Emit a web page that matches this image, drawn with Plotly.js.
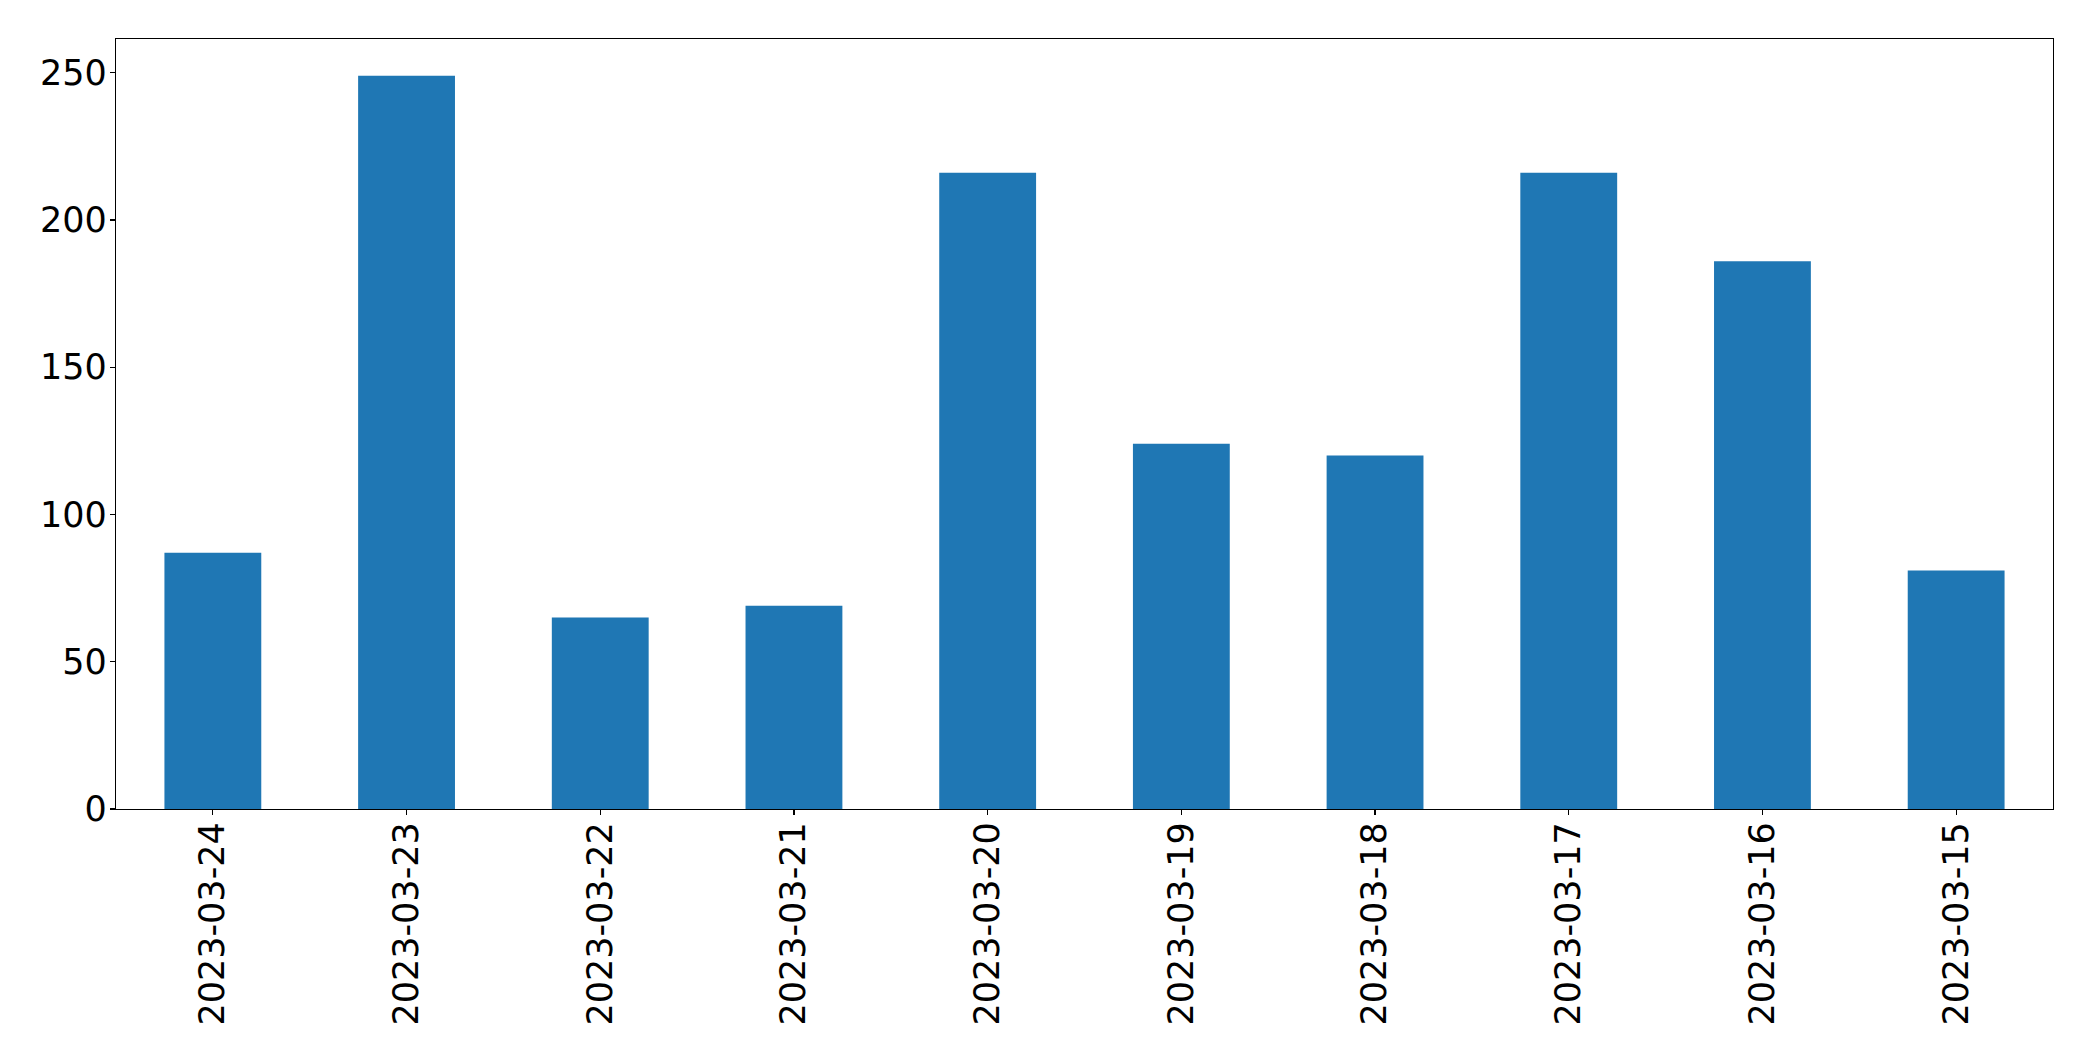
<!DOCTYPE html>
<html>
<head>
<meta charset="utf-8">
<script src="https://cdn.plot.ly/plotly-3.0.1.min.js"></script>
<style>
html, body { margin: 0; padding: 0; background: #ffffff; }
#chart { width: 2093px; height: 1061px; }
</style>
</head>
<body>
<div id="chart"></div>
<script>
const dates = ["2023-03-24", "2023-03-23", "2023-03-22", "2023-03-21", "2023-03-20",
               "2023-03-19", "2023-03-18", "2023-03-17", "2023-03-16", "2023-03-15"];
const counts = [87, 249, 65, 69, 216, 124, 120, 216, 186, 81];
const yTicks = [0, 50, 100, 150, 200, 250];

const font = { family: "DejaVu Sans", size: 35, color: "#000000" };

const trace = {
  type: "bar",
  x: dates,
  y: counts,
  width: 0.5,
  marker: { color: "#1f77b4", line: { width: 0 } },
  hoverinfo: "x+y"
};

const layout = {
  width: 2093,
  height: 1061,
  margin: { l: 116, r: 40, t: 39, b: 252, pad: 0 },
  paper_bgcolor: "#ffffff",
  plot_bgcolor: "#ffffff",
  showlegend: false,
  font: font,
  bargap: 0.5,
  xaxis: {
    type: "category",
    range: [-0.5, dates.length - 0.5],
    tickangle: -90,
    ticks: "outside",
    ticklen: 5,
    tickwidth: 1.2,
    tickcolor: "#000000",
    tickfont: font,
    showline: true,
    linecolor: "#000000",
    linewidth: 1.2,
    mirror: true,
    showgrid: false,
    zeroline: false,
    ticklabelstandoff: -7
  },
  yaxis: {
    range: [0, Math.max(...counts) * 1.05],
    tickmode: "array",
    tickvals: yTicks,
    ticktext: yTicks.map(String),
    ticks: "outside",
    ticklen: 5,
    tickwidth: 1.2,
    tickcolor: "#000000",
    tickfont: font,
    showline: true,
    linecolor: "#000000",
    linewidth: 1.2,
    mirror: true,
    showgrid: false,
    zeroline: false,
    ticklabelstandoff: -4
  }
};

Plotly.newPlot("chart", [trace], layout, { displayModeBar: false, staticPlot: true });
</script>
</body>
</html>
